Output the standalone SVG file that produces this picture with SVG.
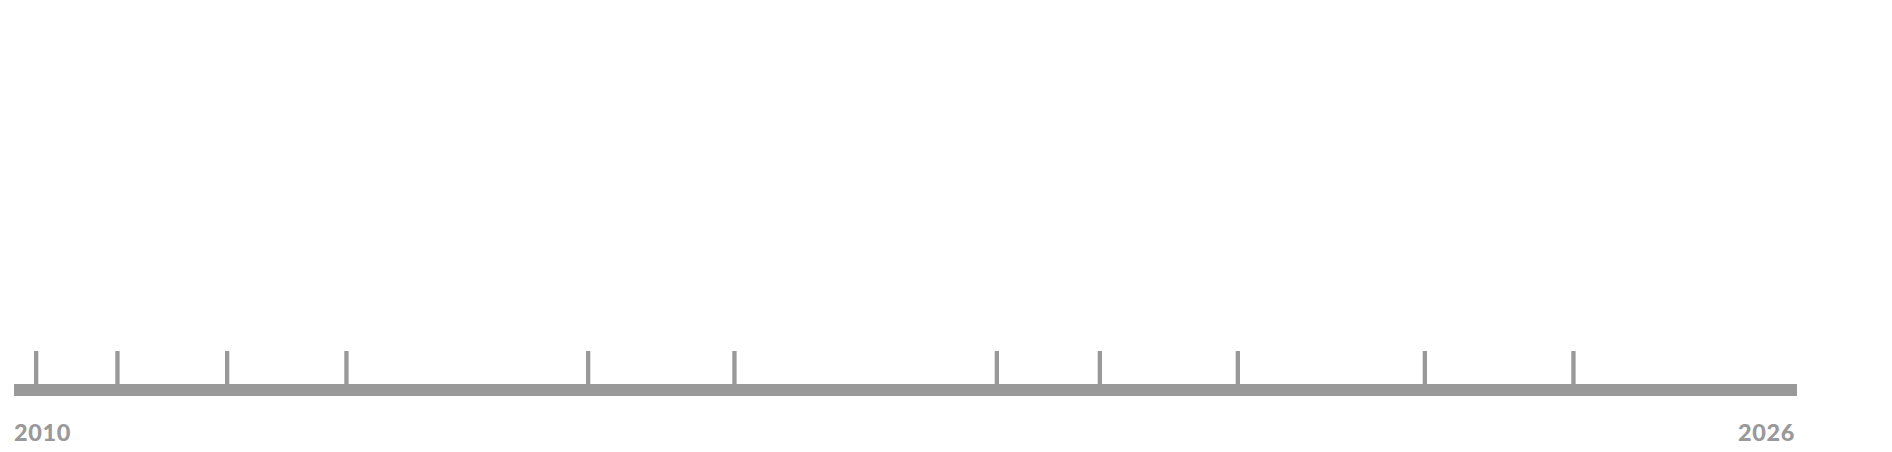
<svg xmlns="http://www.w3.org/2000/svg" width="1892" height="452" viewBox="0 0 1892 452">
<style>
.bar{fill:#999999}
.tick{fill:#999999}
.yr{font-family:Lato,"Liberation Sans",sans-serif;font-weight:900;font-size:23.5px;fill:#999999;letter-spacing:0.6px}
</style>
<rect width="1892" height="452" fill="#ffffff"/>
<g id="axis">
<rect class="bar" x="14" y="384" width="1783" height="12"/>
</g>
<g id="ticks">
<rect class="tick" x="34" y="351" width="4.3" height="34"/>
<rect class="tick" x="115.3" y="351" width="4.3" height="34"/>
<rect class="tick" x="225" y="351" width="4.3" height="34"/>
<rect class="tick" x="344.3" y="351" width="4.3" height="34"/>
<rect class="tick" x="586" y="351" width="4.3" height="34"/>
<rect class="tick" x="732.3" y="351" width="4.3" height="34"/>
<rect class="tick" x="994.7" y="351" width="4.3" height="34"/>
<rect class="tick" x="1097.7" y="351" width="4.3" height="34"/>
<rect class="tick" x="1235.7" y="351" width="4.3" height="34"/>
<rect class="tick" x="1422.7" y="351" width="4.3" height="34"/>
<rect class="tick" x="1571.3" y="351" width="4.3" height="34"/>
</g>
<g id="labels">
<text class="yr" x="14" y="441">2010</text>
<text class="yr" x="1795" y="441" text-anchor="end">2026</text>
</g>
</svg>
